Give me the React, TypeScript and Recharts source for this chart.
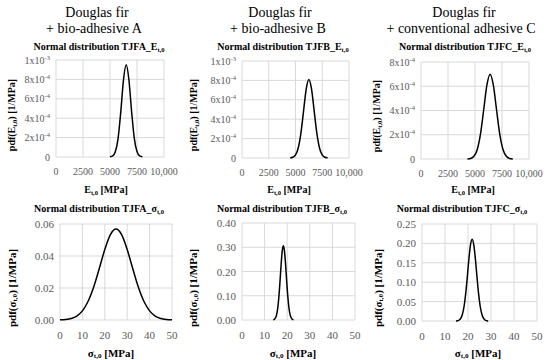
import React from 'react';
import { LineChart, Line, XAxis, YAxis, CartesianGrid } from 'recharts';

const FONT = '"Liberation Serif", "DejaVu Serif", serif';
const TICK_COLOR = '#595959';

// tick values
const modulusTicks = [0, 2500, 5000, 7500, 10000];
const strengthTicks = [0, 10, 20, 30, 40, 50];
const pdfTicksE = [0, 0.0002, 0.0004, 0.0006, 0.0008, 0.001];
const pdfTicksEC = [0, 0.0002, 0.0004, 0.0006, 0.0008];
const pdfTicksSA = [0, 0.02, 0.04, 0.06];
const pdfTicksSB = [0, 0.1, 0.2, 0.3, 0.4];
const pdfTicksSC = [0, 0.05, 0.1, 0.15, 0.2, 0.25];

// TJFA E_t,0
const tjfaE = [5000, 5250, 5500, 5750, 6000, 6250, 6500, 6750, 7000, 7250, 7500, 7750, 8000];
const tjfaEPdf = [0.000002, 0.000011, 0.000056, 0.000193, 0.000468, 0.000796, 0.00095, 0.000796, 0.000468, 0.000193, 0.000056, 0.000011, 0.000002];

// TJFB E_t,0
const tjfbE = [4500, 4750, 5000, 5250, 5500, 5750, 6000, 6250, 6500, 6750, 7000, 7250, 7500, 7750, 8000];
const tjfbEPdf = [0.0000014, 0.0000075, 0.000031, 0.000101, 0.000251, 0.000481, 0.000711, 0.00081, 0.000711, 0.000481, 0.000251, 0.000101, 0.000031, 0.0000075, 0.0000014];

// TJFC E_t,0
const tjfcE = [4300, 4600, 4900, 5200, 5500, 5800, 6100, 6400, 6700, 7000, 7300, 7600, 7900, 8200, 8500];
const tjfcEPdf = [0.0000008, 0.0000048, 0.000022, 0.000076, 0.000201, 0.000402, 0.000609, 0.0007, 0.000609, 0.000402, 0.000201, 0.000076, 0.000022, 0.0000048, 0.0000008];

// TJFA sigma_t,0
const tjfaS = [0, 2.5, 5, 7.5, 10, 12.5, 15, 17.5, 20, 22.5, 25, 27.5, 30, 32.5, 35, 37.5, 40, 42.5, 45, 47.5, 50];
const tjfaSPdf = [0.0001, 0.00032, 0.00096, 0.00249, 0.00572, 0.01153, 0.02048, 0.032, 0.044, 0.0533, 0.0568, 0.0533, 0.044, 0.032, 0.02048, 0.01153, 0.00572, 0.00249, 0.00096, 0.00032, 0.0001];

// TJFB sigma_t,0
const tjfbS = [13.8, 14.3, 14.8, 15.3, 15.8, 16.3, 16.8, 17.3, 17.8, 18.3, 18.8, 19.3, 19.8, 20.3, 20.8, 21.3, 21.8, 22.3, 22.8];
const tjfbSPdf = [0.0008, 0.0027, 0.0082, 0.0213, 0.0482, 0.0938, 0.157, 0.2276, 0.2842, 0.306, 0.2842, 0.2276, 0.157, 0.0938, 0.0482, 0.0213, 0.0082, 0.0027, 0.0008];

// TJFC sigma_t,0
const tjfcS = [14.8, 15.5, 16.2, 16.9, 17.6, 18.3, 19.0, 19.7, 20.4, 21.1, 21.8, 22.5, 23.2, 23.9, 24.6, 25.3, 26.0, 26.7, 27.4, 28.1, 28.8];
const tjfcSPdf = [0.0002, 0.0008, 0.0026, 0.0073, 0.0179, 0.038, 0.0705, 0.1138, 0.1604, 0.197, 0.211, 0.197, 0.1604, 0.1138, 0.0705, 0.038, 0.0179, 0.0073, 0.0026, 0.0008, 0.0002];

const toRows = (xs: number[], ys: number[]) => xs.map((x, i) => ({ x, pdf: ys[i] }));

const tickStyle = { fontFamily: FONT };

function SciTick(props: any) {
  const { x, y, payload } = props;
  const v = payload.value as number;
  if (v === 0) {
    return (
      <text x={x} y={y} dy={3.5} textAnchor="end" fill={TICK_COLOR} fontSize={10} style={tickStyle}>0</text>
    );
  }
  const exp = Math.floor(Math.log10(v) + 1e-9);
  const mant = Math.round(v / Math.pow(10, exp));
  return (
    <text x={x} y={y} dy={3.5} textAnchor="end" fill={TICK_COLOR} fontSize={10} style={tickStyle}>
      <tspan>{mant}x10</tspan>
      <tspan dy={-4} fontSize={6.5}>{exp}</tspan>
    </text>
  );
}

function FixedTick(props: any) {
  const { x, y, payload } = props;
  return (
    <text x={x} y={y} dy={4} textAnchor="end" fill={TICK_COLOR} fontSize={11} style={tickStyle}>
      {(payload.value as number).toFixed(2)}
    </text>
  );
}

function XTick(props: any) {
  const { x, y, payload, big } = props;
  const v = payload.value as number;
  return (
    <text x={x} y={y} dy={big ? 15 : 14} textAnchor="middle" fill={TICK_COLOR} fontSize={big ? 11 : 10} style={tickStyle}>
      {v >= 10000 ? v.toLocaleString('en-US') : String(v)}
    </text>
  );
}

interface PanelProps {
  px: number;
  py: number;
  pw: number;
  ph: number;
  rows: { x: number; pdf: number }[];
  xTicks: number[];
  yTicks: number[];
  sci?: boolean;
}

function Panel({ px, py, pw, ph, rows, xTicks, yTicks, sci }: PanelProps) {
  const YW = 60;
  const XH = 30;
  const MT = 12;
  const MR = 28;
  const xMax = xTicks[xTicks.length - 1];
  const yMax = yTicks[yTicks.length - 1];
  return (
    <div style={{ position: 'absolute', left: px - YW, top: py - MT }}>
      <LineChart width={pw + YW + MR} height={ph + MT + XH} data={rows} margin={{ top: MT, right: MR, bottom: 0, left: 0 }}>
        <CartesianGrid stroke="#d9d9d9" strokeWidth={1} />
        <XAxis
          dataKey="x"
          type="number"
          domain={[0, xMax]}
          ticks={xTicks}
          interval={0}
          axisLine={false}
          tickLine={false}
          tickSize={0}
          tickMargin={4}
          height={XH}
          tick={<XTick big={!sci} />}
        />
        <YAxis
          type="number"
          domain={[0, yMax]}
          ticks={yTicks}
          interval={0}
          axisLine={false}
          tickLine={false}
          tickSize={4}
          tickMargin={2}
          width={YW}
          tick={sci ? <SciTick /> : <FixedTick />}
        />
        <Line type="monotone" dataKey="pdf" stroke="#000" strokeWidth={1.5} dot={false} isAnimationActive={false} />
      </LineChart>
    </div>
  );
}

function Txt({ cx, cy, size, bold, rotate, children }: { cx: number; cy: number; size: number; bold?: boolean; rotate?: boolean; children: React.ReactNode }) {
  return (
    <div
      style={{
        position: 'absolute',
        left: cx,
        top: cy,
        transform: `translate(-50%, -50%)${rotate ? ' rotate(-90deg)' : ''}`,
        whiteSpace: 'nowrap',
        lineHeight: 1,
        fontSize: size,
        fontWeight: bold ? 'bold' : 'normal',
        color: '#000',
      }}
    >
      {children}
    </div>
  );
}

const Sub = ({ children }: { children: React.ReactNode }) => (
  <sub style={{ fontSize: '65%', verticalAlign: '-0.25em', lineHeight: 0 }}>{children}</sub>
);

export default function App() {
  return (
    <div style={{ position: 'fixed', left: 0, top: 0, width: 550, height: 360, background: '#fff', fontFamily: FONT, overflow: 'hidden' }}>
      <Txt cx={97} cy={13} size={14}>Douglas fir</Txt>
      <Txt cx={94} cy={29} size={14}>+ bio-adhesive A</Txt>
      <Txt cx={280} cy={13} size={14}>Douglas fir</Txt>
      <Txt cx={278} cy={29} size={14}>+ bio-adhesive B</Txt>
      <Txt cx={464} cy={13} size={14}>Douglas fir</Txt>
      <Txt cx={461} cy={29} size={14}>+ conventional adhesive C</Txt>

      <Txt cx={99} cy={47} size={10} bold>Normal distribution TJFA_E<Sub>t,0</Sub></Txt>
      <Txt cx={283} cy={47} size={10} bold>Normal distribution TJFB_E<Sub>t,0</Sub></Txt>
      <Txt cx={465} cy={47} size={10} bold>Normal distribution TJFC_E<Sub>t,0</Sub></Txt>

      <Txt cx={99} cy={209} size={10} bold>Normal distribution TJFA_σ<Sub>t,0</Sub></Txt>
      <Txt cx={282} cy={209} size={10} bold>Normal distribution TJFB_σ<Sub>t,0</Sub></Txt>
      <Txt cx={462} cy={209} size={10} bold>Normal distribution TJFC_σ<Sub>t,0</Sub></Txt>

      <Txt cx={12} cy={115} size={10} bold rotate>pdf(E<Sub>t,0</Sub>) [1/MPa]</Txt>
      <Txt cx={194} cy={115} size={10} bold rotate>pdf(E<Sub>t,0</Sub>) [1/MPa]</Txt>
      <Txt cx={377} cy={116} size={10} bold rotate>pdf(E<Sub>t,0</Sub>) [1/MPa]</Txt>
      <Txt cx={12} cy={288} size={11} bold rotate>pdf(σ<Sub>t,0</Sub>) [1/MPa]</Txt>
      <Txt cx={193} cy={288} size={11} bold rotate>pdf(σ<Sub>t,0</Sub>) [1/MPa]</Txt>
      <Txt cx={378} cy={288} size={11} bold rotate>pdf(σ<Sub>t,0</Sub>) [1/MPa]</Txt>

      <Txt cx={106} cy={190} size={10} bold>E<Sub>t,0</Sub> [MPa]</Txt>
      <Txt cx={289} cy={190} size={10} bold>E<Sub>t,0</Sub> [MPa]</Txt>
      <Txt cx={473} cy={190} size={10} bold>E<Sub>t,0</Sub> [MPa]</Txt>
      <Txt cx={111} cy={353} size={11} bold>σ<Sub>t,0</Sub> [MPa]</Txt>
      <Txt cx={293} cy={353} size={11} bold>σ<Sub>t,0</Sub> [MPa]</Txt>
      <Txt cx={478} cy={353} size={11} bold>σ<Sub>t,0</Sub> [MPa]</Txt>

      <Panel px={56} py={60} pw={108} ph={97} rows={toRows(tjfaE, tjfaEPdf)} xTicks={modulusTicks} yTicks={pdfTicksE} sci />
      <Panel px={242} py={61} pw={107} ph={97} rows={toRows(tjfbE, tjfbEPdf)} xTicks={modulusTicks} yTicks={pdfTicksE} sci />
      <Panel px={421} py={62} pw={108} ph={97} rows={toRows(tjfcE, tjfcEPdf)} xTicks={modulusTicks} yTicks={pdfTicksEC} sci />
      <Panel px={60} py={224} pw={112} ph={96} rows={toRows(tjfaS, tjfaSPdf)} xTicks={strengthTicks} yTicks={pdfTicksSA} />
      <Panel px={242} py={223} pw={113} ph={97} rows={toRows(tjfbS, tjfbSPdf)} xTicks={strengthTicks} yTicks={pdfTicksSB} />
      <Panel px={422} py={224} pw={115} ph={97} rows={toRows(tjfcS, tjfcSPdf)} xTicks={strengthTicks} yTicks={pdfTicksSC} />
    </div>
  );
}
